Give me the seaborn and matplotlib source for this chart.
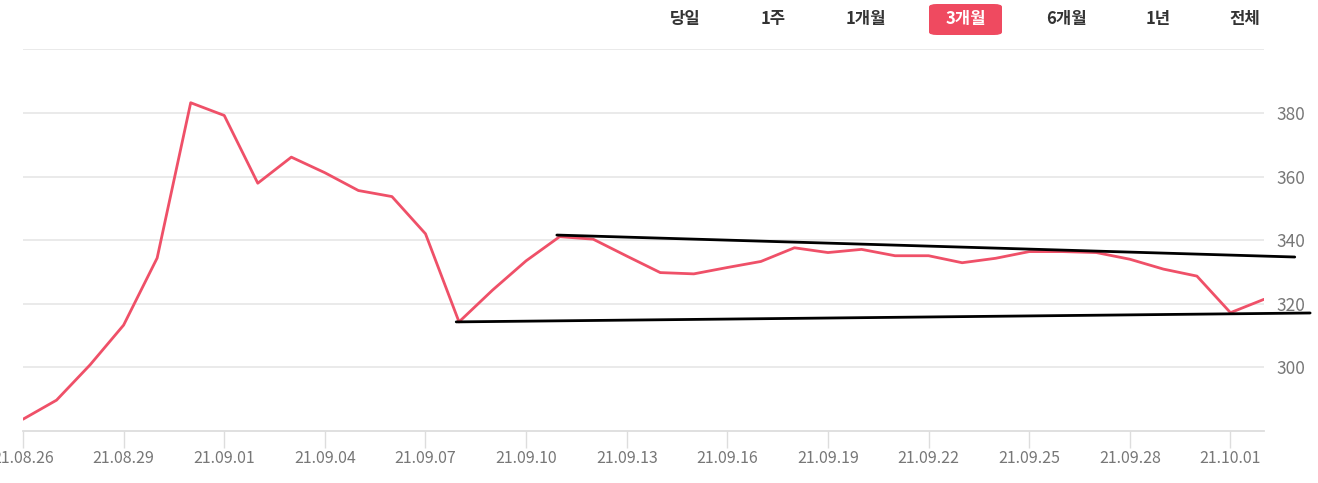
import matplotlib
matplotlib.use("Agg")
import matplotlib.pyplot as plt
import matplotlib.dates as mdates
from matplotlib.patches import FancyBboxPatch
import seaborn as sns
import pandas as pd
import numpy as np

# ---- data ----
dates = pd.date_range("2021-08-26", "2021-10-02", freq="D")
values = [283.7, 289.7, 300.8, 313.3, 334.4, 383.2, 379.2, 357.9, 366.1, 361.2,
          355.6, 353.7, 342.0, 314.3, 324.3, 333.5, 341.1, 340.3, 335.0, 329.8,
          329.4, 331.4, 333.3, 337.6, 336.1, 337.1, 335.1, 335.1, 332.9, 334.3,
          336.4, 336.4, 336.1, 334.0, 330.9, 328.7, 317.2, 321.4]
# trend lines (start date, start value, end date, end value)
upper_x = ["2021-09-10 22:00", "2021-10-02 22:00"]
upper_y = [341.6, 334.7]
lower_x = ["2021-09-07 22:00", "2021-10-03 09:00"]
lower_y = [314.3, 317.1]
y_ticks = [300, 320, 340, 360, 380]
grid_levels = [300, 320, 340, 360, 380, 400]
buttons = ["당일", "1주", "1개월", "3개월", "6개월", "1년", "전체"]
active_button = "3개월"

df = pd.DataFrame({"date": dates, "value": values})

sns.set_theme(style="white")
plt.rcParams["font.family"] = ["Noto Sans CJK KR", "DejaVu Sans"]

W, H = 1318, 483
fig = plt.figure(figsize=(W / 100, H / 100), dpi=100)
ax = fig.add_axes([23 / W, 1 - 431 / H, (1264 - 23) / W, (431 - 49.3) / H])

for g in grid_levels:
    ax.axhline(g, color="#e8e8e8", lw=1.3, zorder=0)

sns.lineplot(data=df, x="date", y="value", ax=ax, color="#ef5068", lw=2.0, zorder=3)

ax.plot(pd.to_datetime(upper_x), upper_y, color="black", lw=2.0, clip_on=False, zorder=4)
ax.plot(pd.to_datetime(lower_x), lower_y, color="black", lw=2.0, clip_on=False, zorder=4)

ax.set_xlim(dates[0], dates[-1])
ax.set_ylim(280, 400)
ax.set_xlabel("")
ax.set_ylabel("")

for s in ["top", "left", "right"]:
    ax.spines[s].set_visible(False)
ax.spines["bottom"].set_color("#dddddd")
ax.spines["bottom"].set_linewidth(1.3)

xt = dates[::3]
ax.set_xticks(xt)
ax.xaxis.set_major_formatter(mdates.DateFormatter("%y.%m.%d"))
ax.tick_params(axis="x", bottom=True, length=12, width=1.0, color="#dddddd",
               labelsize=11.5, labelcolor="#777777", pad=2)

ax.yaxis.tick_right()
ax.set_yticks(y_ticks)
ax.tick_params(axis="y", right=False, left=False, length=0, labelsize=12.5,
               labelcolor="#777777", pad=9)

# top period buttons
btn_x = [685, 773, 866, 966, 1066, 1158, 1245]
for label, bx in zip(buttons, btn_x):
    if label == active_button:
        box = FancyBboxPatch(((929) / W, 1 - 35 / H), (1002 - 929) / W, 31 / H,
                             boxstyle="round,pad=0,rounding_size=0.006",
                             transform=fig.transFigure, facecolor="#ef4a60",
                             edgecolor="none")
        fig.patches.append(box)
        fig.text(bx / W, 1 - 19 / H, label, ha="center", va="center",
                 color="white", fontsize=12, fontweight="bold")
    else:
        fig.text(bx / W, 1 - 19 / H, label, ha="center", va="center",
                 color="#333333", fontsize=12, fontweight="bold")

fig.savefig("out.png", dpi=100)
